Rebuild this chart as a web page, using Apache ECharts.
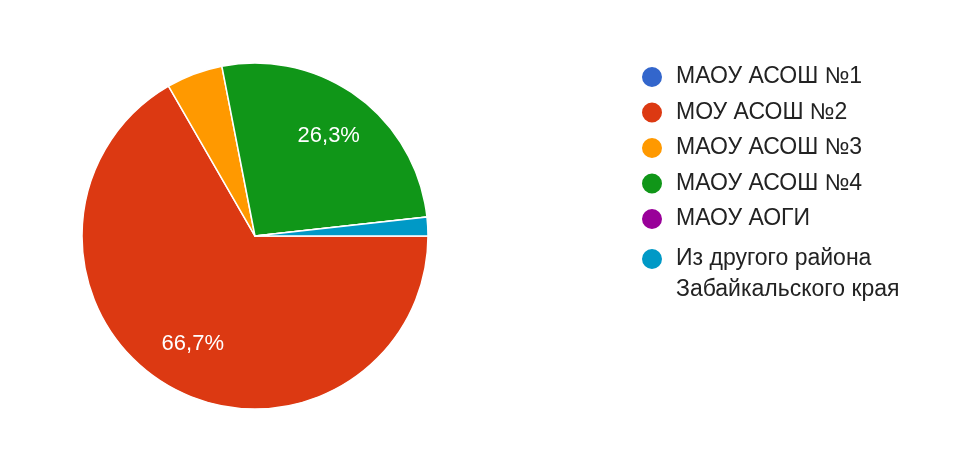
<!DOCTYPE html>
<html>
<head>
<meta charset="utf-8">
<script src="https://cdn.jsdelivr.net/npm/echarts@6/dist/echarts.min.js"></script>
<style>
html,body{margin:0;padding:0;background:#fff;}
#c{width:956px;height:457px;}
</style>
</head>
<body>
<div id="c"></div>
<script>
const categories = ['МАОУ АСОШ №1', 'МОУ АСОШ №2', 'МАОУ АСОШ №3', 'МАОУ АСОШ №4', 'МАОУ АОГИ', 'Из другого района Забайкальского края'];
const counts = [0, 38, 3, 15, 0, 1];
const colors = ['#3366cc', '#dc3912', '#ff9900', '#109618', '#990099', '#0099c6'];
const wrapAt = ' Забайкальского';

const FONT = '"Liberation Sans", Arial, sans-serif';
const pieData = categories.map((name, i) => ({ name: name, value: counts[i] }));
const lastName = categories[categories.length - 1];
const firstLine = lastName.slice(0, lastName.indexOf(wrapAt));
const secondLine = lastName.slice(lastName.indexOf(wrapAt) + 1);

const chart = echarts.init(document.getElementById('c'), null, { renderer: 'canvas' });
chart.setOption({
  animation: false,
  color: colors,
  legend: {
    orient: 'vertical',
    left: 640,
    top: 65,
    padding: 0,
    itemWidth: 22,
    itemHeight: 22,
    itemGap: 11.5,
    icon: 'circle',
    selectedMode: false,
    formatter: function (name) { return name === lastName ? firstLine : name; },
    textStyle: { fontFamily: FONT, fontSize: 23, lineHeight: 24, color: '#222', padding: [0, 0, 0, 8] },
    data: categories.map((name, i) => i === categories.length - 1
      ? { name: name, textStyle: { lineHeight: 33 } }
      : { name: name })
  },
  graphic: [{
    type: 'text',
    x: 676,
    y: 290,
    silent: true,
    style: { text: secondLine, fontFamily: FONT, fontSize: 23, fill: '#222', verticalAlign: 'middle' }
  }],
  series: [
    {
      type: 'pie',
      center: [255, 236],
      radius: [0, 173],
      startAngle: 0,
      clockwise: true,
      avoidLabelOverlap: false,
      silent: true,
      itemStyle: { borderColor: '#fff', borderWidth: 1.5 },
      label: { show: false },
      labelLine: { show: false },
      data: pieData
    },
    {
      type: 'pie',
      center: [255, 236],
      radius: [70, 173],
      startAngle: 0,
      clockwise: true,
      silent: true,
      legendHoverLink: false,
      avoidLabelOverlap: false,
      percentPrecision: 1,
      itemStyle: { color: 'rgba(0,0,0,0)', borderWidth: 0 },
      label: {
        show: true,
        position: 'inside',
        color: '#fff',
        fontFamily: FONT,
        fontSize: 22,
        formatter: function (p) {
          return p.percent >= 10 ? p.percent.toFixed(1).replace('.', ',') + '%' : '';
        }
      },
      labelLine: { show: false },
      data: pieData
    }
  ]
});
</script>
</body>
</html>
